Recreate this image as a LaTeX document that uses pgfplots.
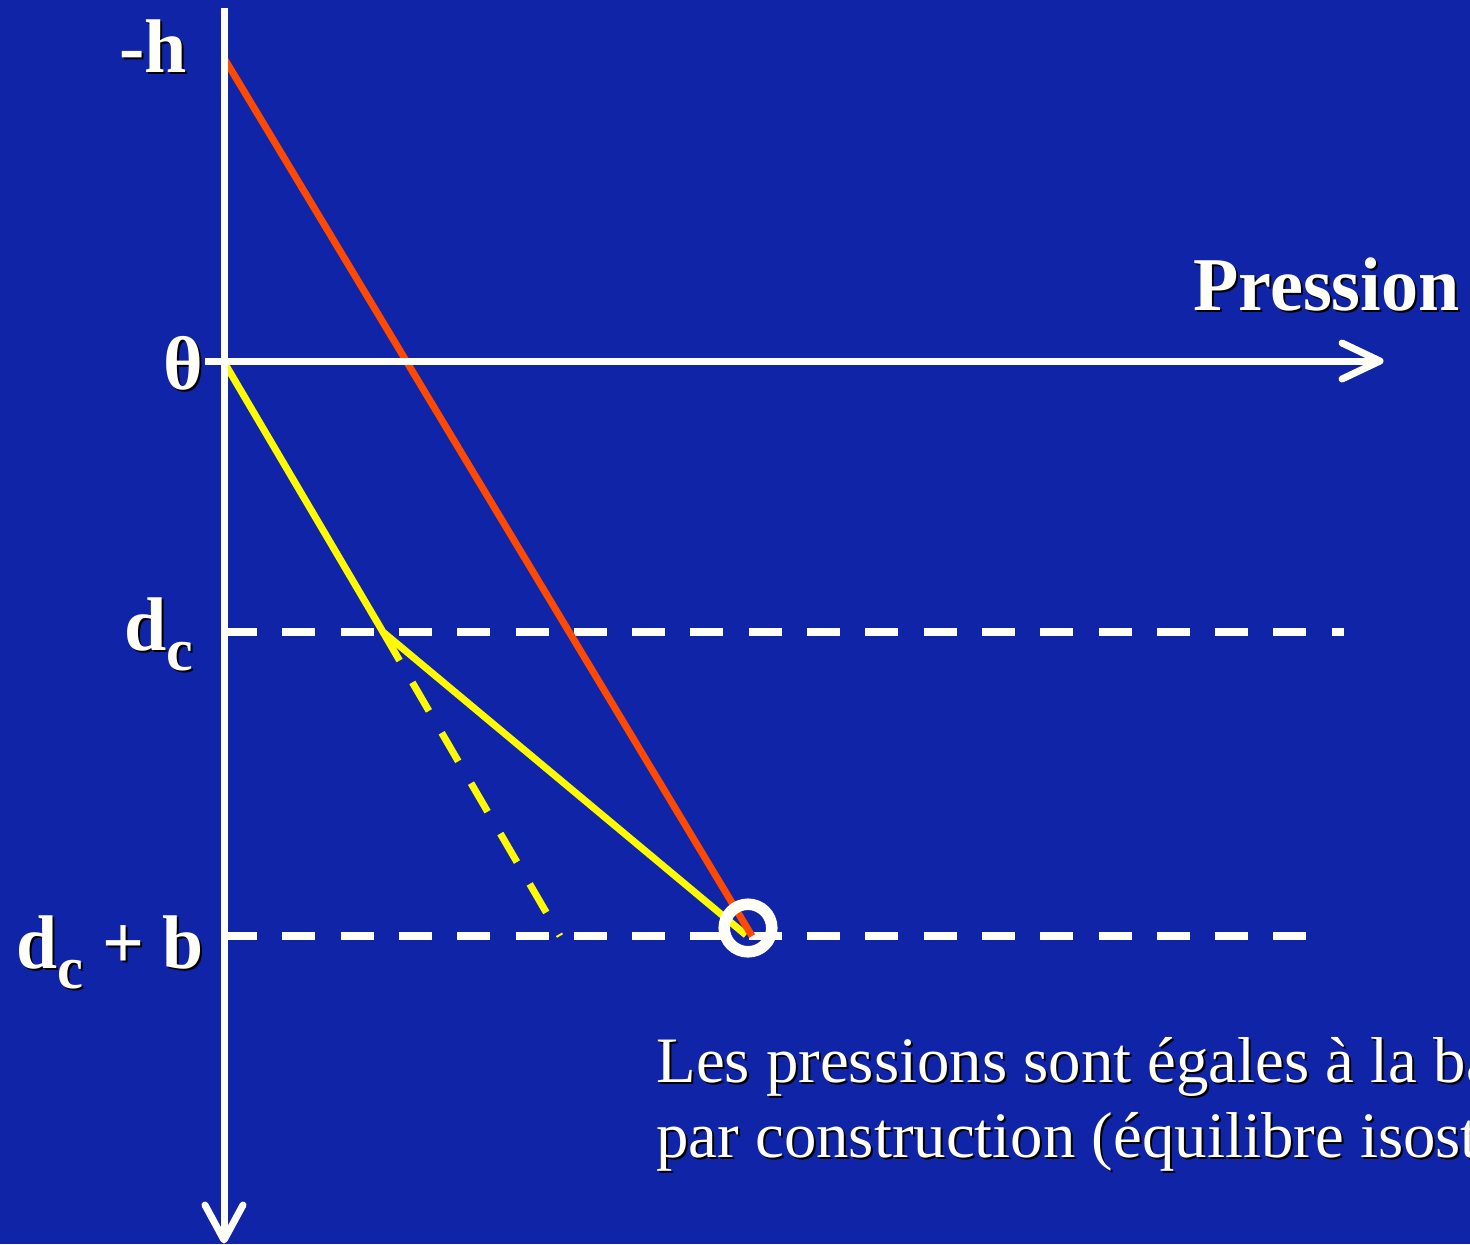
\documentclass[border=0pt]{standalone}
\usepackage{pgfplots}
\pgfplotsset{compat=1.18}
\usepackage{fontspec}
\setmainfont{Liberation Serif}
\definecolor{bg}{RGB}{16,36,168}
\definecolor{redl}{RGB}{255,72,0}
\definecolor{yel}{RGB}{255,250,0}
\definecolor{wht}{RGB}{255,255,248}
\newcommand{\bigb}{\fontsize{38}{44}\selectfont\bfseries}
\newcommand{\smallc}{\raisebox{-10pt}{\fontsize{30}{30}\selectfont\bfseries c}}
\newcommand{\lab}[3]{%
  \node[anchor=#2, inner sep=0pt, text=black, xshift=1pt, yshift=-1pt] at (axis cs:#1) {#3};
  \node[anchor=#2, inner sep=0pt, text=wht] at (axis cs:#1) {#3};}
\begin{document}
\begin{tikzpicture}
\path[use as bounding box] (0,0) rectangle (735pt,622pt);
\clip (0,0) rectangle (735pt,622pt);
\fill[bg] (0,0) rectangle (735pt,622pt);
\begin{axis}[
  at={(0,0)}, anchor=south west,
  scale only axis, width=735pt, height=622pt,
  xmin=0, xmax=1470, ymin=0, ymax=1244, y dir=reverse,
  hide axis, clip=false,
]
% white dashed levels
\addplot[wht, line width=4pt, dash pattern=on 16.5pt off 12.65pt] coordinates {(224,632) (1344,632)};
\addplot[wht, line width=4pt, dash pattern=on 16.5pt off 12.65pt] coordinates {(224,936) (1306,936)};
% yellow dashed continuation
\addplot[yel, line width=3.5pt, dash pattern=on 16.5pt off 12.65pt] coordinates {(383,632) (560,936)};
% yellow solid
\addplot[yel, line width=3.5pt] coordinates {(224,362) (383,632) (746,935)};
% red line
\addplot[redl, line width=3.5pt] coordinates {(224,58) (752,936)};
% circle
\addplot[only marks, mark=o, mark size=11.9pt, mark options={draw=wht, line width=5.75pt}] coordinates {(748,928)};
% axes
\addplot[wht, line width=3.5pt] coordinates {(224,8) (224,1238)};
\addplot[wht, line width=3.5pt, line cap=round, line join=round] coordinates {(205,1205) (224,1240) (243,1205)};
\addplot[wht, line width=3.5pt] coordinates {(205,361) (1378,361)};
\addplot[wht, line width=3.5pt, line cap=round, line join=round] coordinates {(1342,343) (1380,361) (1342,379)};
% labels
\lab{187,72}{base east}{\bigb -h}
\lab{204,389}{base east}{\bigb θ}
\lab{194,650}{base east}{\bigb d\smallc}
\lab{204,968}{base east}{\bigb\scalebox{0.97}[1]{d\smallc\ + b}}
\lab{1193,310}{base west}{\bigb\scalebox{0.975}[1]{Pression}}
\lab{656,1082}{base west}{\fontsize{32.4}{37}\selectfont Les pressions sont égales à la base}
\lab{656,1157}{base west}{\fontsize{32.4}{37}\selectfont par construction (équilibre isostatique)}
\end{axis}
\end{tikzpicture}
\end{document}
